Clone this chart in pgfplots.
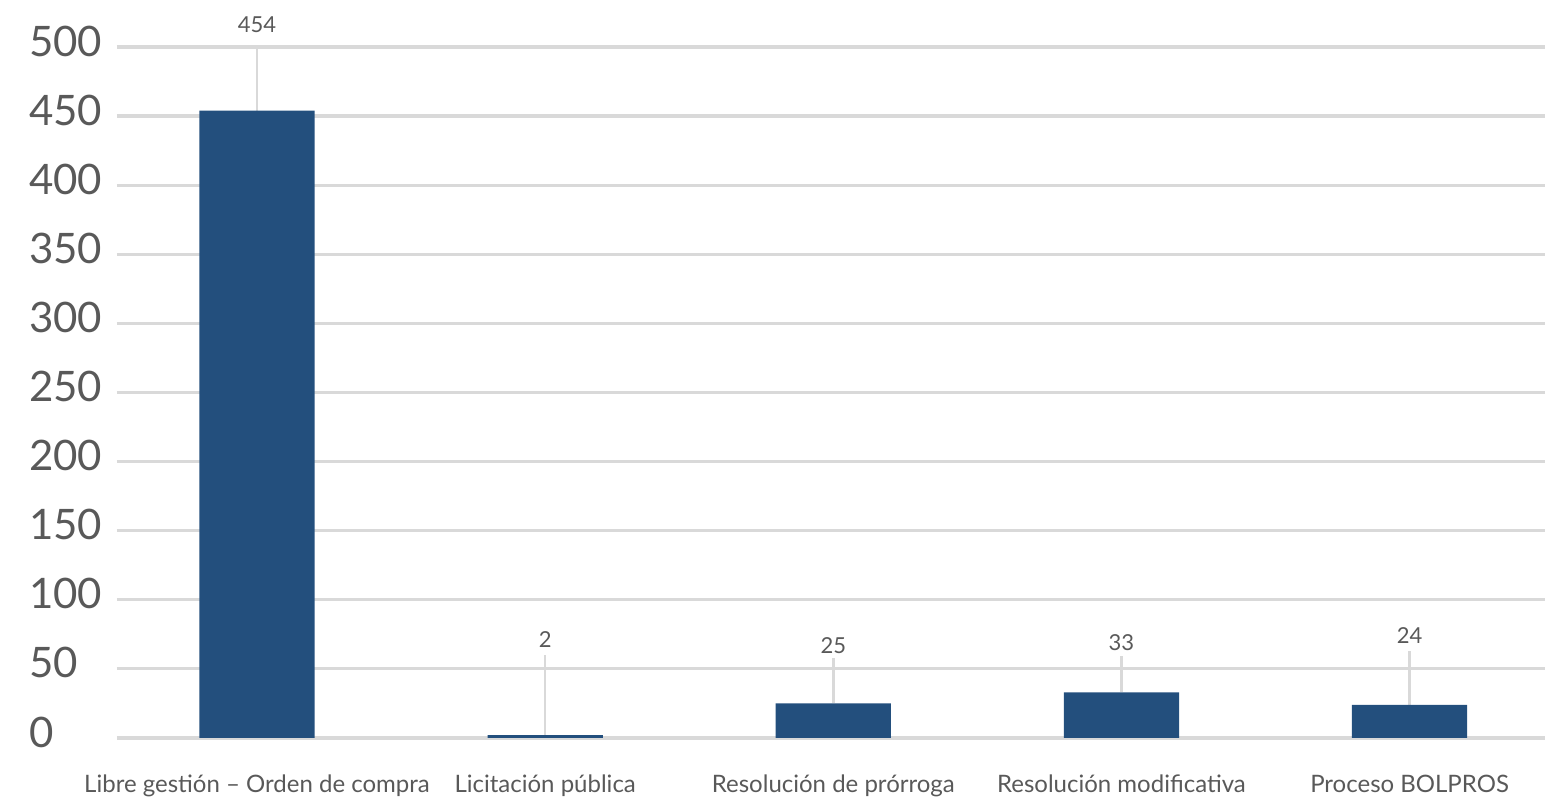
\documentclass[border=0pt]{standalone}
\usepackage{fontspec}
\setmainfont{Lato}
\usepackage{pgfplots}
\pgfplotsset{compat=1.18}
\usepackage{pgfplotstable}

\definecolor{barblue}{RGB}{35,79,125}
\definecolor{gridgray}{RGB}{217,217,217}
\definecolor{textgray}{RGB}{89,89,89}

% x, value, label height, top of leader line
\pgfplotstableread{
x  y    ly   lt
0  454  516  499
1  2    71   60
2  25   67   58
3  33   69   59
4  24   74   63
}\datatable

\begin{document}
\begin{tikzpicture}
\useasboundingbox (0,0) rectangle (772.5pt,403pt);
\begin{axis}[
    at={(58.5pt,34pt)}, anchor=south west,
    scale only axis,
    width=714pt, height=345.5pt,
    xmin=-0.486, xmax=4.47,
    ymin=0, ymax=500,
    clip=false,
    axis line style={draw=none},
    major tick length=0pt,
    ytick distance=50,
    ymajorgrids,
    grid style={gridgray, line width=1.6pt},
    xtick={0,1,2,3,4},
    xticklabels={Libre gestión – Orden de compra, Licitación pública, Resolución de prórroga, Resolución modificativa, Proceso BOLPROS},
    xticklabel style={font=\fontsize{12}{14}\selectfont, text=textgray, yshift=-15pt},
    yticklabel style={font=\fontsize{21}{24}\selectfont, text=textgray, anchor=west, xshift=-47.5pt, yshift=3pt},
    /pgf/number format/assume math mode=true,
]
\addplot[draw=none, mark=none, forget plot,
    error bars/.cd, y dir=plus, y explicit,
    error mark=none, error bar style={gridgray, line width=1.2pt}]
    table[x=x, y=y, y error expr=\thisrow{lt}-\thisrow{y}] {\datatable};
\addplot[ybar, bar width=0.4, fill=barblue, draw=none]
    table[x=x, y=y] {\datatable};
\addplot[draw=none, mark=none, nodes near coords, point meta=explicit symbolic,
    nodes near coords style={anchor=center, text=textgray, font=\fontsize{11}{13}\selectfont}]
    table[x=x, y=ly, meta=y] {\datatable};
\end{axis}
\end{tikzpicture}
\end{document}
